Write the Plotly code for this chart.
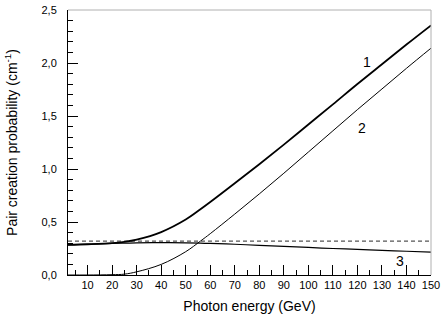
import plotly.graph_objects as go

# photon energy (GeV)
energy = [2, 10, 20, 25, 30, 40, 50, 56, 60, 70, 80, 90, 100, 110, 120, 130, 140, 150]

# curve 1 - total
prob_total = [0.285, 0.29, 0.30, 0.312, 0.333, 0.405, 0.523, 0.62, 0.688, 0.865, 1.045, 1.23,
              1.42, 1.61, 1.802, 1.988, 2.174, 2.355]
# curve 2
prob_2 = [0.0, 0.0, 0.003, 0.008, 0.03, 0.10, 0.22, 0.32, 0.39, 0.575, 0.765, 0.96,
          1.16, 1.36, 1.56, 1.755, 1.95, 2.14]
# curve 3
prob_3 = [0.285, 0.29, 0.298, 0.300, 0.303, 0.305, 0.303, 0.300, 0.298, 0.29, 0.28, 0.27,
          0.26, 0.25, 0.242, 0.233, 0.224, 0.215]
# dashed reference level
ref_level = 0.32

x_ticks = list(range(10, 151, 10))
y_ticks = [0, 0.5, 1.0, 1.5, 2.0, 2.5]
y_ticktext = ["0,0", "0,5", "1,0", "1,5", "2,0", "2,5"]

labels = [("1", 124, 2.01), ("2", 122, 1.39), ("3", 137.5, 0.13)]

fig = go.Figure()
fig.add_trace(go.Scatter(x=[energy[0], energy[-1]], y=[ref_level, ref_level], mode="lines",
                         line=dict(color="#555555", width=1.2, dash="4px,3px")))
fig.add_trace(go.Scatter(x=energy, y=prob_3, mode="lines", line=dict(color="black", width=1.2, shape="spline")))
fig.add_trace(go.Scatter(x=energy, y=prob_2, mode="lines", line=dict(color="black", width=1, shape="spline")))
fig.add_trace(go.Scatter(x=energy, y=prob_total, mode="lines", line=dict(color="black", width=1.8, shape="spline")))

for txt, xx, yy in labels:
    fig.add_annotation(x=xx, y=yy, text=txt, showarrow=False, font=dict(size=14, color="black"))

font = "Liberation Sans, Arial, sans-serif"
fig.update_layout(
    width=447, height=323,
    margin=dict(l=68, r=16, t=10, b=48),
    plot_bgcolor="white", paper_bgcolor="white",
    showlegend=False,
    font=dict(family=font, color="black"),
    xaxis=dict(range=[2, 150], tickvals=x_ticks, ticks="inside", ticklen=10, tickwidth=1,
               tickcolor="black", showline=True, linecolor="black", linewidth=1,
               showgrid=False, zeroline=False, tickfont=dict(size=11), automargin=False,
               minor=dict(ticks="inside", ticklen=5, dtick=5, tick0=0, tickcolor="black", showgrid=False),
               title=dict(text="Photon energy (GeV)", font=dict(size=14), standoff=10)),
    yaxis=dict(range=[0, 2.5], tickvals=y_ticks, ticktext=y_ticktext, ticks="inside", ticklen=10,
               tickwidth=1, tickcolor="black", showline=True, linecolor="black", linewidth=1,
               showgrid=False, zeroline=False, tickfont=dict(size=11), ticklabelstandoff=8,
               automargin=False,
               minor=dict(ticks="inside", ticklen=5, dtick=0.1, tick0=0, tickcolor="black", showgrid=False),
               title=dict(text="Pair creation probability (cm<sup>-1</sup>)", font=dict(size=14), standoff=20)),
)

# light frame on top and right
fig.add_shape(type="line", xref="paper", yref="paper", x0=0, x1=1, y0=1, y1=1,
              line=dict(color="#b0b0b0", width=1))
fig.add_shape(type="line", xref="paper", yref="paper", x0=1, x1=1, y0=0, y1=1,
              line=dict(color="#b0b0b0", width=1))

fig.write_html("out.html", config={"displayModeBar": False},
               post_script="document.body.style.margin='0';")
